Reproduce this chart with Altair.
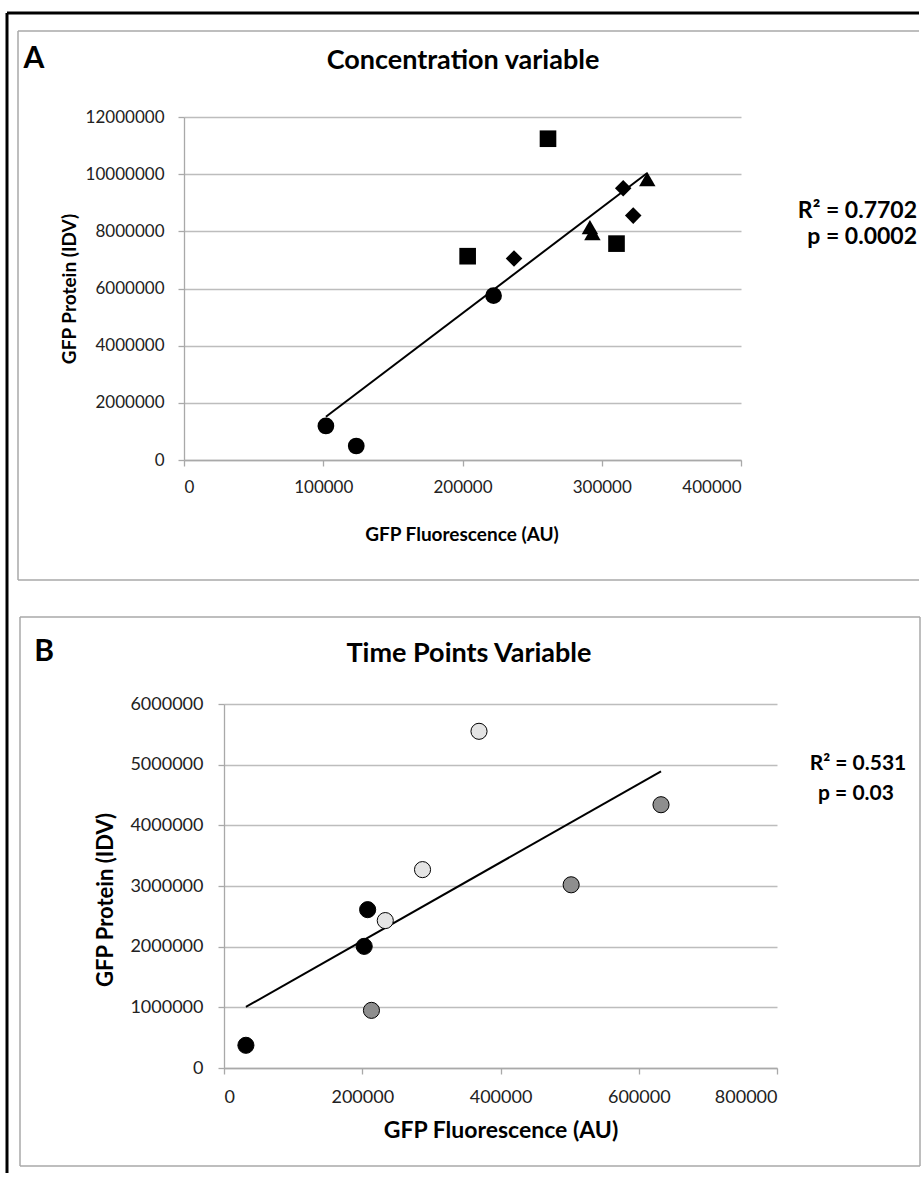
import altair as alt
import pandas as pd

FONT = "Lato"

# ---------------- Panel A data ----------------
a_x = [101900, 123700, 222300, 203700, 261400, 310600, 237000, 315400, 322600, 291500, 293300, 332700]
a_y = [1190000, 490000, 5750000, 7130000, 11240000, 7570000, 7050000, 9510000, 8550000, 8150000, 7940000, 9830000]
a_group = ["g1", "g1", "g1", "g2", "g2", "g2", "g3", "g3", "g3", "g4", "g4", "g4"]
a_groups = ["g1", "g2", "g3", "g4"]
a_xticks = [0, 100000, 200000, 300000, 400000]
a_yticks = [0, 2000000, 4000000, 6000000, 8000000, 10000000, 12000000]
a_letter = ["A"]
a_title = ["Concentration variable"]
a_stats = ["R² = 0.7702", "p = 0.0002"]

# ---------------- Panel B data ----------------
b_x = [31700, 202800, 207800, 233300, 287200, 368900, 213300, 502200, 632200]
b_y = [374000, 2005000, 2610000, 2430000, 3270000, 5550000, 950000, 3020000, 4340000]
b_group = ["t1", "t1", "t1", "t2", "t2", "t2", "t3", "t3", "t3"]
b_groups = ["t1", "t2", "t3"]
b_xticks = [0, 200000, 400000, 600000, 800000]
b_yticks = [0, 1000000, 2000000, 3000000, 4000000, 5000000, 6000000]
b_letter = ["B"]
b_title = ["Time Points Variable"]
b_stats = ["R² = 0.531", "p = 0.03"]

x_label = ["GFP Fluorescence (AU)"]
y_label = ["GFP Protein (IDV)"]

GRID = "#bdbdbd"
AXC = "#a9a9a9"
BOX = "#a8a8a8"

one = pd.DataFrame({"k": [0]})


def text(t, x, y, size, weight="bold", align="center", angle=0):
    return alt.Chart(pd.DataFrame({"t": [t]})).mark_text(
        font=FONT, fontSize=size, fontWeight=weight, align=align,
        baseline="middle", angle=angle, color="black"
    ).encode(x=alt.value(x), y=alt.value(y), text="t:N")


def rule(x1, y1, x2, y2, color, w):
    return alt.Chart(one).mark_rule(color=color, strokeWidth=w).encode(
        x=alt.value(x1), x2=alt.value(x2), y=alt.value(y1), y2=alt.value(y2)
    )


# ---------------- Panel A ----------------
AW, AH = 557, 343
dfa = pd.DataFrame({"x": a_x, "y": a_y, "g": a_group})
ax = alt.X("x:Q", scale=alt.Scale(domain=[0, 400000], nice=False),
           axis=alt.Axis(values=a_xticks, format="d", grid=False, title=None,
                         labelFontSize=17, labelPadding=13))
ay = alt.Y("y:Q", scale=alt.Scale(domain=[0, 12000000], nice=False),
           axis=alt.Axis(values=a_yticks, format="d", grid=True, title=None,
                         labelFontSize=17, labelPadding=14))

a_pts = alt.Chart(dfa).mark_point(filled=True, color="black", opacity=1).encode(
    x=ax, y=ay,
    shape=alt.Shape("g:N", scale=alt.Scale(domain=a_groups,
                    range=["circle", "square", "diamond", "triangle-up"]), legend=None),
    size=alt.Size("g:N", scale=alt.Scale(domain=a_groups, range=[280, 270, 330, 380]), legend=None),
)
a_fit = alt.Chart(dfa).transform_regression("x", "y").mark_line(
    color="black", strokeWidth=2).encode(x="x:Q", y="y:Q")

a_decor = [
    # outer black frame
    rule(-177, -104, 735, -104, "black", 3),
    rule(-177, -104, -177, 1056, "black", 3),
    # panel A box
    rule(-166, -86, 735, -86, BOX, 1.5),
    rule(-166, -86, -166, 463, BOX, 1.5),
    rule(-166, 463, 735, 463, BOX, 1.5),
    text(a_letter[0], -150, -58, 30),
    text(a_title[0], 279, -56, 27),
    text(y_label[0], -114, 172, 19, angle=270),
    text(x_label[0], 278, 418, 19),
    text(a_stats[0], 733, 94, 23, align="right"),
    text(a_stats[1], 733, 120, 23, align="right"),
]
panel_a = alt.layer(a_fit, a_pts, *a_decor).properties(width=AW, height=AH)

# ---------------- Panel B ----------------
BW, BH = 553, 364
dfb = pd.DataFrame({"x": b_x, "y": b_y, "g": b_group})
bx = alt.X("x:Q", scale=alt.Scale(domain=[0, 800000], nice=False),
           axis=alt.Axis(values=b_xticks, format="d", grid=False, title=None,
                         labelFontSize=18, labelPadding=14))
by = alt.Y("y:Q", scale=alt.Scale(domain=[0, 6000000], nice=False),
           axis=alt.Axis(values=b_yticks, format="d", grid=True, title=None,
                         labelFontSize=18, labelPadding=15))

b_pts = alt.Chart(dfb).mark_circle(stroke="black", strokeWidth=1, opacity=1, fillOpacity=1).encode(
    x=bx, y=by,
    fill=alt.Fill("g:N", scale=alt.Scale(domain=b_groups, range=["#000000", "#e4e4e4", "#8e8e8e"]),
                  legend=None),
    size=alt.value(260),
)
b_fit = alt.Chart(dfb).transform_regression("x", "y").mark_line(
    color="black", strokeWidth=2).encode(x="x:Q", y="y:Q")

b_decor = [
    rule(-204, -87, 696, -87, BOX, 1.5),
    rule(-204, -87, -204, 462, BOX, 1.5),
    rule(-204, 462, 696, 462, BOX, 1.5),
    rule(696, -87, 696, 462, BOX, 1.5),
    text(b_letter[0], -180, -52, 30),
    text(b_title[0], 245, -50, 27),
    text(y_label[0], -118, 196, 22, angle=270),
    text(x_label[0], 277, 427, 23),
    text(b_stats[0], 634, 60, 21),
    text(b_stats[1], 632, 90, 21),
]
panel_b = alt.layer(b_fit, b_pts, *b_decor).properties(width=BW, height=BH)

spacer = alt.Chart(one).mark_text(text="").encode(
    x=alt.value(0), y=alt.value(0)).properties(width=40, height=10)

row_b = alt.hconcat(spacer, panel_b, spacing=0, bounds="flush")

chart = alt.vconcat(panel_a, row_b, spacing=244, bounds="flush").properties(
    padding={"left": 5, "top": 11, "right": 0, "bottom": 0},
    background="white",
).configure_view(stroke=None).configure_axis(
    labelFont=FONT, labelColor="#222222", domainColor=AXC, tickColor=AXC,
    gridColor=GRID, domainWidth=1.3, tickWidth=1.3, gridWidth=1.3, tickSize=6,
)

chart.save("out.html", embed_options={"renderer": "svg", "actions": False})
